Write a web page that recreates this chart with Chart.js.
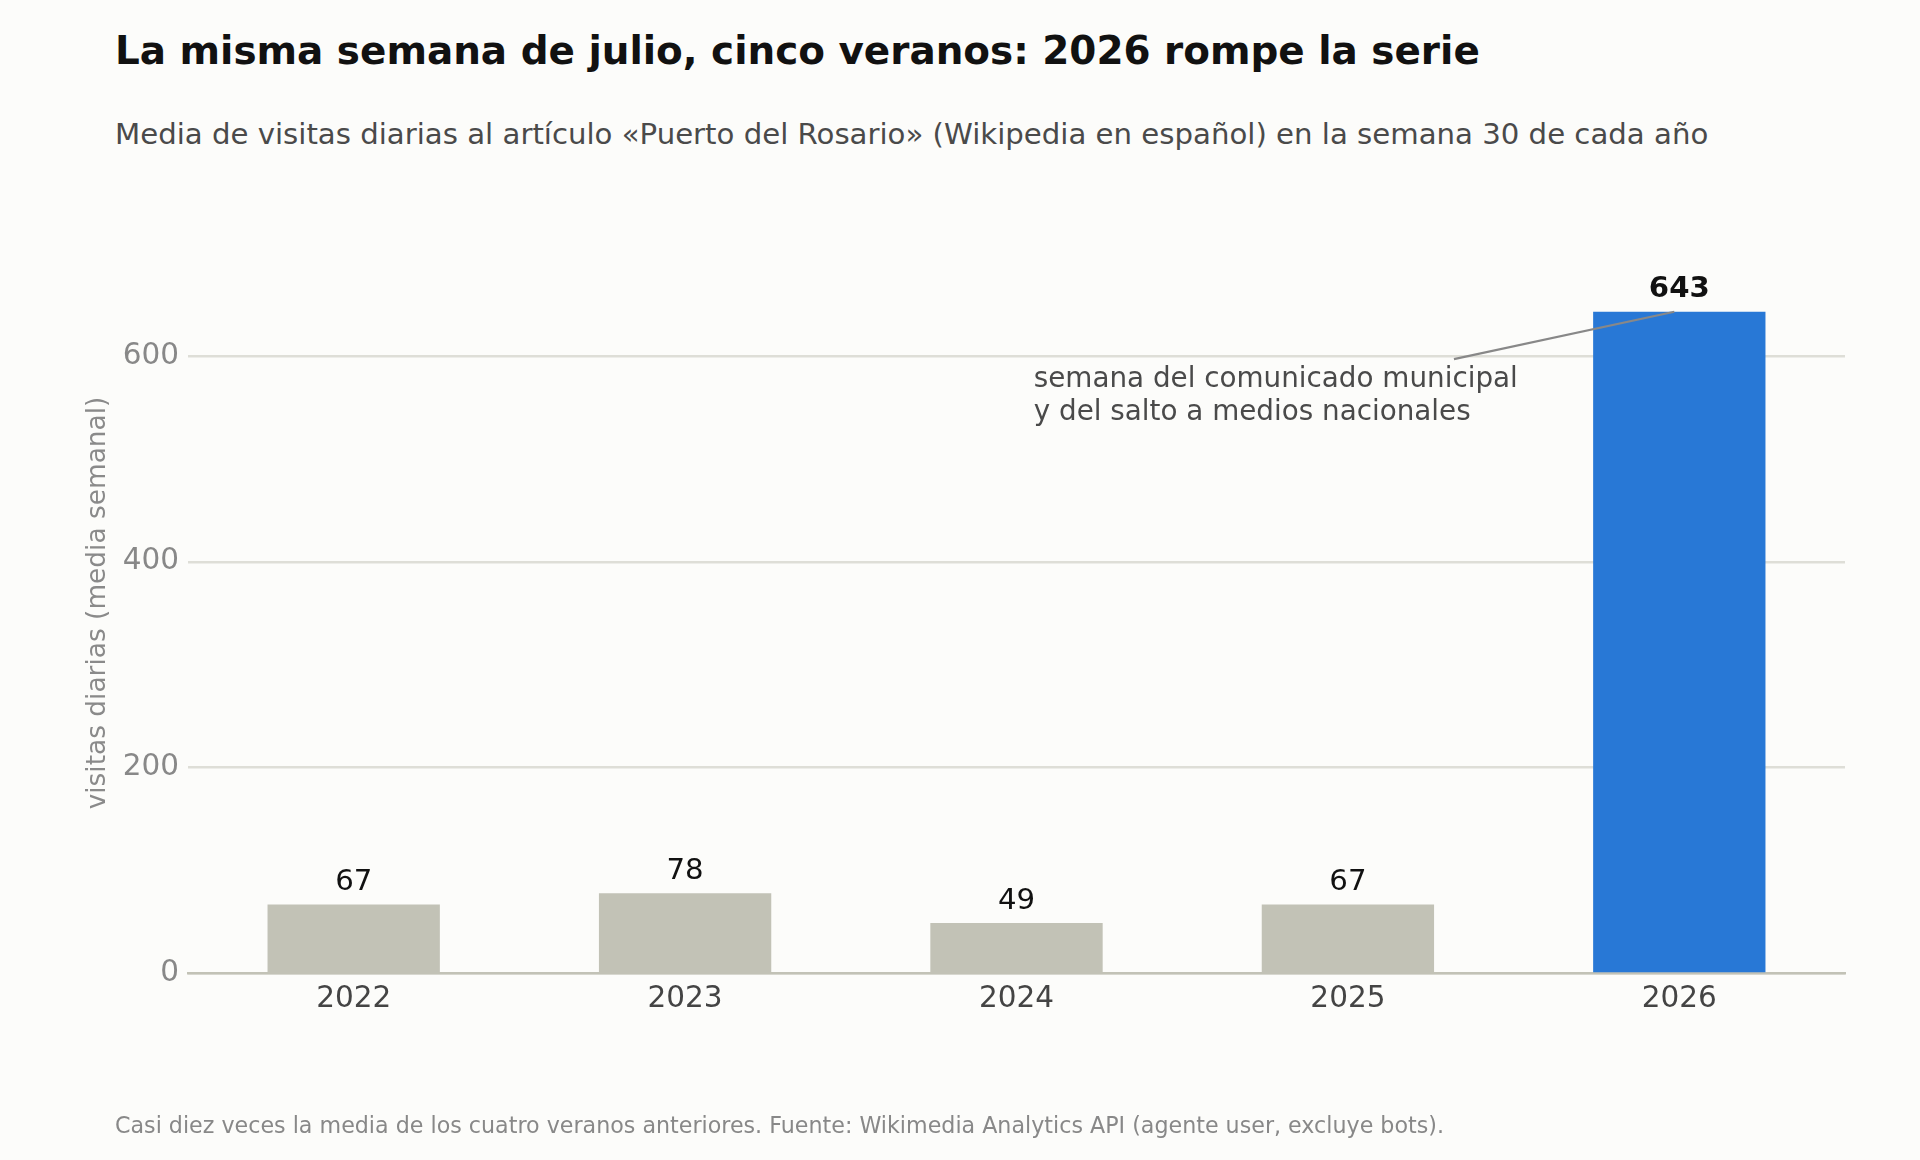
<!DOCTYPE html>
<html lang="es">
<head>
<meta charset="utf-8">
<title>Puerto del Rosario – semana 30</title>
<script src="https://cdn.jsdelivr.net/npm/chart.js@4.4.0/dist/chart.umd.min.js"></script>
<style>
  html, body { margin: 0; padding: 0; background: #fcfcfa; }
  body { width: 1920px; height: 1160px; position: relative; overflow: hidden; font-family: "DejaVu Sans", sans-serif; }
  #chart { position: absolute; left: 0; top: 0; }
  .txt { position: absolute; left: 115px; white-space: nowrap; line-height: 1; }
  #title { top: 32px; font-size: 38.9px; font-weight: bold; color: #111; }
  #subtitle { top: 120px; font-size: 29.2px; color: #4a4a4a; }
  #footer { top: 1114px; font-size: 22.2px; color: #888; }
</style>
</head>
<body>
<div id="title" class="txt">La misma semana de julio, cinco veranos: 2026 rompe la serie</div>
<div id="subtitle" class="txt">Media de visitas diarias al artículo «Puerto del Rosario» (Wikipedia en español) en la semana 30 de cada año</div>
<canvas id="chart" width="1920" height="1160"></canvas>
<div id="footer" class="txt">Casi diez veces la media de los cuatro veranos anteriores. Fuente: Wikimedia Analytics API (agente user, excluye bots).</div>

<script>
// datos
const years = ["2022", "2023", "2024", "2025", "2026"];
const visits = [67, 78, 49, 67, 643];
const yTicks = [0, 200, 400, 600];

const noteLines = ["semana del comunicado municipal", "y del salto a medios nacionales"];

const GREY = "#c2c2b6";
const BLUE = "#2878d6";
const barColors = years.map((y, i) => (i === years.length - 1 ? BLUE : GREY));

Chart.defaults.font.family = "'DejaVu Sans', sans-serif";

// etiquetas encima de las barras + nota con línea
const labelsPlugin = {
  id: "barLabels",
  afterDatasetsDraw(chart) {
    const ctx = chart.ctx;
    const meta = chart.getDatasetMeta(0);
    const xs = chart.scales.x;
    const ys = chart.scales.y;

    ctx.save();
    ctx.textAlign = "center";
    ctx.textBaseline = "alphabetic";
    meta.data.forEach((bar, i) => {
      const last = i === visits.length - 1;
      ctx.font = (last ? "bold " : "") + "29.2px 'DejaVu Sans'";
      ctx.fillStyle = "#111";
      ctx.fillText(String(visits[i]), bar.x, bar.y - 14.5);
    });

    // línea de la nota
    ctx.strokeStyle = "#888";
    ctx.lineWidth = 2.2;
    ctx.beginPath();
    ctx.moveTo(xs.getPixelForValue(3.32), ys.getPixelForValue(597));
    ctx.lineTo(xs.getPixelForValue(3.985), ys.getPixelForValue(visits[4]));
    ctx.stroke();

    // texto de la nota
    ctx.textAlign = "left";
    ctx.font = "27.8px 'DejaVu Sans'";
    ctx.fillStyle = "#4a4a4a";
    const tx = xs.getPixelForValue(2.052);
    const ty = ys.getPixelForValue(570);
    noteLines.forEach((line, k) => ctx.fillText(line, tx, ty + k * 33.4));
    ctx.restore();
  }
};

new Chart(document.getElementById("chart"), {
  type: "bar",
  data: {
    labels: years,
    datasets: [
      {
        data: visits,
        backgroundColor: barColors,
        borderWidth: 0,
        barPercentage: 0.52,
        categoryPercentage: 1.0
      }
    ]
  },
  options: {
    responsive: false,
    animation: false,
    devicePixelRatio: 1,
    layout: { padding: { left: 0, right: 75, top: 232.5, bottom: 0 } },
    plugins: {
      legend: { display: false },
      tooltip: { enabled: false }
    },
    scales: {
      x: {
        grid: { display: false, drawTicks: false },
        border: { display: true, color: GREY, width: 2.5 },
        ticks: { color: "#444", font: { size: 29.5 }, padding: 8 },
        afterFit(scale) { scale.height = 186.5; }
      },
      y: {
        min: 0,
        max: 720,
        grid: { color: "#deded7", lineWidth: 2.4, drawTicks: false },
        border: { display: false },
        ticks: { stepSize: 200, color: "#888", font: { size: 29.5 }, padding: 9 },
        afterBuildTicks(scale) {
          scale.ticks = yTicks.map((v) => ({ value: v }));
        },
        title: {
          display: true,
          text: "visitas diarias (media semanal)",
          color: "#8a8a8a",
          font: { size: 26.4 },
          padding: { top: 82, bottom: 0 }
        },
        afterFit(scale) { scale.width = 188; }
      }
    }
  },
  plugins: [labelsPlugin]
});
</script>
</body>
</html>
